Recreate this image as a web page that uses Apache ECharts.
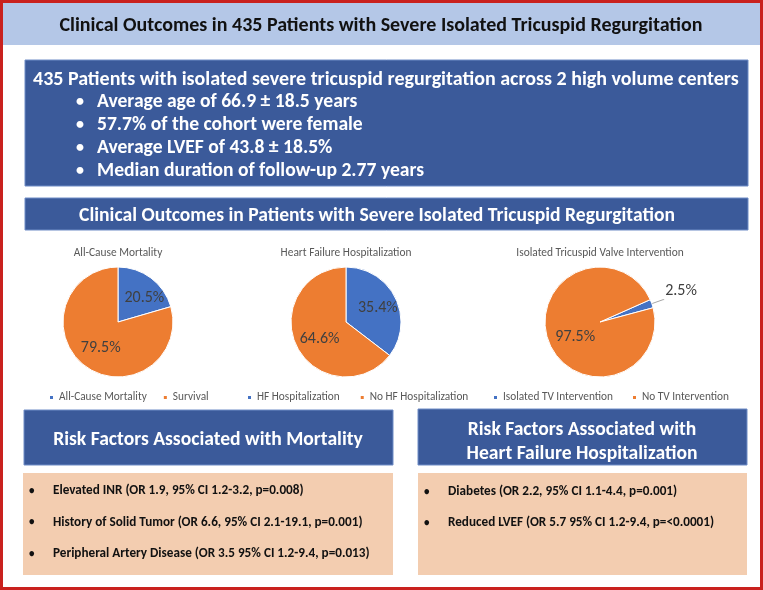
<!DOCTYPE html>
<html><head><meta charset="utf-8">
<script src="https://cdn.jsdelivr.net/npm/echarts@6/dist/echarts.min.js"></script>
<style>html,body{margin:0;padding:0;background:#fff}#c{width:763px;height:590px}</style>
</head><body><div id="c"></div>
<script>
const FONT = 'Carlito, Lato, "Liberation Sans", sans-serif';
const mainTitle = 'Clinical Outcomes in 435 Patients with Severe Isolated Tricuspid Regurgitation';
const cohortHeadline = '435 Patients with isolated severe tricuspid regurgitation across 2 high volume centers';
const cohortBullets = ['Average age of 66.9 \u00b1 18.5 years', '57.7% of the cohort were female', 'Average LVEF of 43.8 \u00b1 18.5%', 'Median duration of follow-up 2.77 years'];
const outcomesHeader = 'Clinical Outcomes in Patients with Severe Isolated Tricuspid Regurgitation';
const pieTitles = ['All-Cause Mortality', 'Heart Failure Hospitalization', 'Isolated Tricuspid Valve Intervention'];
const mortalityNames = ['All-Cause Mortality', 'Survival'];
const mortalityValues = [20.5, 79.5];
const hfNames = ['HF Hospitalization', 'No HF Hospitalization'];
const hfValues = [35.4, 64.6];
const tvNames = ['Isolated TV Intervention', 'No TV Intervention'];
const tvValues = [2.5, 97.5];
const mortalityRiskHeader = ['Risk Factors Associated with Mortality'];
const mortalityRisks = ['Elevated INR (OR 1.9, 95% CI 1.2-3.2, p=0.008)', 'History of Solid Tumor (OR 6.6, 95% CI 2.1-19.1, p=0.001)', 'Peripheral Artery Disease (OR 3.5 95% CI 1.2-9.4, p=0.013)'];
const hfRiskHeader = ['Risk Factors Associated with', 'Heart Failure Hospitalization'];
const hfRisks = ['Diabetes (OR 2.2, 95% CI 1.1-4.4, p=0.001)', 'Reduced LVEF (OR 5.7 95% CI 1.2-9.4, p=<0.0001)'];

const BLUE = '#4472c4', ORANGE = '#ed7d31', HEAD = '#3b5a9a', PEACH = '#f3cdb0';
const chart = echarts.init(document.getElementById('c'), null, {renderer: 'canvas'});

function txt(x, y, text, font, fill, align) {
  return {type: 'text', x: x, y: y, style: {text: text, font: font, fill: fill, textAlign: align || 'left', textVerticalAlign: 'middle'}};
}
const g = [];
g.push({type: 'rect', shape: {x: 3, y: 3, width: 757, height: 42}, style: {fill: '#b4c7e7'}});
g.push({type: 'rect', shape: {x: 1.5, y: 1.5, width: 760, height: 587}, style: {fill: 'none', stroke: '#c9211e', lineWidth: 3}});
g.push(txt(381, 26, mainTitle, 'bold 20px ' + FONT, '#111111', 'center'));
g.push({type: 'rect', shape: {x: 25, y: 60, width: 723, height: 126}, style: {fill: HEAD, stroke: '#6f8cc6', lineWidth: 1}});
g.push(txt(33, 80, cohortHeadline, 'bold 20px ' + FONT, '#ffffff'));
cohortBullets.forEach(function (b, i) {
  g.push(txt(76, 102 + i * 23, '\u2022', 'bold 16px ' + FONT, '#ffffff'));
  g.push(txt(97, 102 + i * 23, b, 'bold 19.6px ' + FONT, '#ffffff'));
});
g.push({type: 'rect', shape: {x: 25, y: 198, width: 723, height: 32}, style: {fill: HEAD, stroke: '#6f8cc6', lineWidth: 1}});
g.push(txt(377, 216, outcomesHeader, 'bold 19.6px ' + FONT, '#ffffff', 'center'));
const pieCx = [118, 346, 600];
pieTitles.forEach(function (t, i) { g.push(txt(pieCx[i], 253, t, '11.4px ' + FONT, '#595959', 'center')); });
// bottom left
g.push({type: 'rect', shape: {x: 24, y: 410, width: 369, height: 55}, style: {fill: HEAD, stroke: '#6f8cc6', lineWidth: 1}});
g.push(txt(208, 440, mortalityRiskHeader[0], 'bold 19.6px ' + FONT, '#ffffff', 'center'));
g.push({type: 'rect', shape: {x: 23, y: 473, width: 370, height: 102}, style: {fill: PEACH}});
mortalityRisks.forEach(function (r, i) {
  g.push(txt(29, 491 + i * 31.5, '\u2022', 'bold 11px ' + FONT, '#111111'));
  g.push(txt(53, 491 + i * 31.5, r, 'bold 13.2px ' + FONT, '#111111'));
});
// bottom right
g.push({type: 'rect', shape: {x: 418, y: 409, width: 329, height: 56}, style: {fill: HEAD, stroke: '#6f8cc6', lineWidth: 1}});
hfRiskHeader.forEach(function (h, i) { g.push(txt(582, 430 + i * 24, h, 'bold 19.6px ' + FONT, '#ffffff', 'center')); });
g.push({type: 'rect', shape: {x: 418, y: 473, width: 329, height: 102}, style: {fill: PEACH}});
hfRisks.forEach(function (r, i) {
  g.push(txt(424, 492 + i * 31, '\u2022', 'bold 11px ' + FONT, '#111111'));
  g.push(txt(448, 492 + i * 31, r, 'bold 13.2px ' + FONT, '#111111'));
});

function pieData(names, values) {
  return names.map(function (n, i) { return {name: n, value: values[i], itemStyle: {color: i === 0 ? BLUE : ORANGE}}; });
}
function pct(p) { return p.value.toFixed(1) + '%'; }
function below(p) { return ' \n' + pct(p); }
function pieSeries(cx, names, values, startAngle) {
  return {
    type: 'pie', center: [cx, 322], radius: 55, startAngle: startAngle, clockwise: true,
    avoidLabelOverlap: false, silent: true,
    itemStyle: {borderColor: '#ffffff', borderWidth: 1},
    label: {show: true, position: 'inside', color: '#404040', fontSize: 16, fontFamily: FONT, formatter: pct},
    labelLine: {show: false},
    data: pieData(names, values)
  };
}
const s1 = pieSeries(118, mortalityNames, mortalityValues, 90);
s1.data[0].label = {padding: [0, 0, 0, 16]};
s1.data[1].label = {padding: [0, 0, 0, 2], formatter: below, lineHeight: 4};
const s2 = pieSeries(346, hfNames, hfValues, 90);
s2.data[0].label = {padding: [0, 0, 0, 9]};
s2.data[1].label = {padding: [0, 0, 0, 2], formatter: below, lineHeight: 6};
const s3 = pieSeries(600, tvNames, tvValues, 24);
s3.data[0].label = {position: 'outside', distanceToLabelLine: 1, lineHeight: 17,
  formatter: function (p) { return pct(p) + '\n '; }};
s3.data[0].labelLine = {show: true, length: 12, length2: 1, lineStyle: {color: '#a6a6a6', width: 1}};
s3.data[1].label = {padding: [0, 0, 0, 8], formatter: below, lineHeight: 9};
function legend(left, names, gap) {
  return {left: left, top: 387, data: names, icon: 'rect', itemWidth: 5, itemHeight: 5, itemGap: gap, selectedMode: false,
    textStyle: {fontSize: 11.3, color: '#595959', fontFamily: FONT}};
}
chart.setOption({
  animation: false,
  legend: [legend(43, mortalityNames, 15), legend(241, hfNames, 19), legend(487, tvNames, 18)],
  series: [s1, s2, s3],
  graphic: g
});
</script></body></html>
